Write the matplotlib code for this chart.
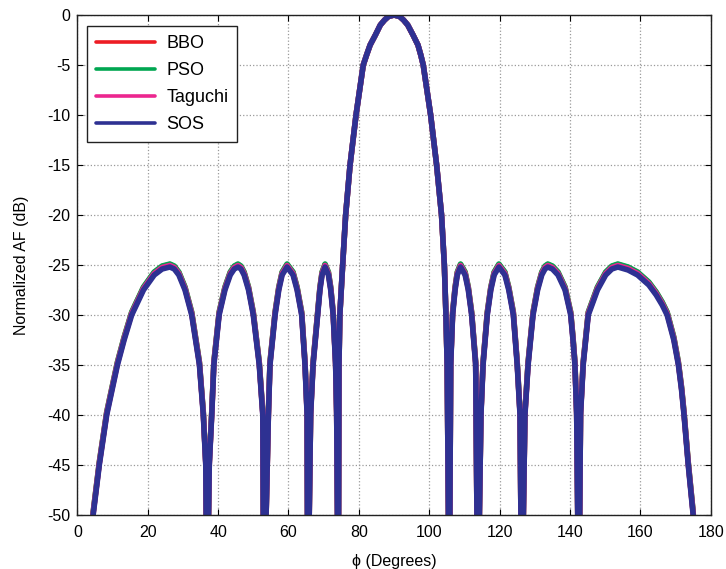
import matplotlib
matplotlib.use("Agg")
import matplotlib.pyplot as plt

plt.rcParams['font.family'] = ['Liberation Sans', 'DejaVu Sans']
plt.rcParams['axes.unicode_minus'] = False

# angle samples (degrees): side lobes left of the beam, main beam, side lobes right of it
phi_left = [3.9, 4.5, 6.25, 8.35, 11.4, 13.3, 15.45, 18.8, 21.85, 24.1, 26.3, 27.55, 28.85, 30.6, 32.5, 34.7, 35.8, 36.5, 36.85,
            37.5, 38.2, 38.8, 40.3, 41.95, 43.45, 44.6, 45.65, 46.5, 47.4, 48.65, 50.0, 51.7, 52.7, 53.0,
            54.3, 54.75, 56.2, 57.25, 58.2, 59.6, 61.3, 62.45, 63.75, 64.7, 65.3, 65.5,
            66.3, 67.0, 68.3, 68.95, 69.55, 70.4, 71.35, 72.0, 72.7, 73.4, 73.7, 74.15]
phi_main = [74.35, 74.6, 75.4, 76.25, 77.5, 79.2, 81.25, 82.2, 83.2, 84.7, 86.1, 87.3, 88.4, 90.0,
            91.6, 92.7, 93.9, 95.4, 96.8, 97.6, 98.3, 100.4, 102.1, 103.5, 104.3, 104.75, 105.1, 105.7]
phi_right = [106.1, 106.65, 107.35, 107.98, 108.9, 110.2, 111.1, 112.05, 113.2, 113.8,
             114.7, 115.3, 116.5, 117.5, 118.45, 119.8, 121.5, 122.6, 123.9, 125.0, 125.8, 126.3,
             127.2, 128.1, 129.5, 130.8, 131.98, 132.9, 133.7, 135.0, 136.6, 138.6, 140.2, 140.85, 141.4, 141.9, 142.5,
             143.0, 143.75, 145.2, 147.8, 150.15, 151.9, 153.6, 156.5, 159.2, 162.4, 164.5, 166.2, 167.6, 169.5, 170.8, 171.7, 172.4, 173.6, 175.0, 175.5]

# main beam is the same for all four methods
main_db = [-35, -30, -25, -20, -15, -10, -5, -4, -3, -2, -1, -0.5, -0.15, 0,
           -0.15, -0.5, -1, -2, -3, -4, -5, -10, -15, -20, -25, -30, -35, -60]

sos_left = [-53, -50, -45, -40, -35, -32.5, -30, -27.5, -26, -25.4, -25.2, -25.4, -26, -27.5, -30, -35, -40, -45, -60,
            -45, -40, -35, -30, -27.5, -26, -25.4, -25.2, -25.4, -26, -27.5, -30, -35, -40, -60,
            -40, -35, -30, -27.5, -26, -25.2, -26, -27.5, -30, -35, -40, -60,
            -40, -35, -30, -27.5, -26, -25.2, -26, -27.5, -30, -35, -40, -60]
sos_right = [-35, -30, -27.5, -26, -25.2, -26, -27.5, -30, -35, -60,
             -40, -35, -30, -27.5, -26, -25.2, -26, -27.5, -30, -35, -40, -60,
             -40, -35, -30, -27.5, -26, -25.4, -25.2, -25.4, -26, -27.5, -30, -32.5, -35, -40, -60,
             -40, -35, -30, -27.5, -26, -25.4, -25.2, -25.5, -26, -27, -28, -29, -30, -32.5, -35, -37.5, -40, -45, -50, -53]

taguchi_left = [-52.85, -49.85, -44.85, -39.85, -34.85, -32.35, -29.85, -27.35, -25.85, -25.25, -25.05, -25.25, -25.85, -27.35, -29.85, -34.85, -39.85, -44.85, -60,
                -44.85, -39.85, -34.85, -29.85, -27.35, -25.85, -25.25, -25.05, -25.25, -25.85, -27.35, -29.85, -34.85, -39.85, -60,
                -39.85, -34.85, -29.85, -27.35, -25.85, -25.05, -25.85, -27.35, -29.85, -34.85, -39.85, -60,
                -39.85, -34.85, -29.85, -27.35, -25.85, -25.05, -25.85, -27.35, -29.85, -34.85, -39.85, -60]
taguchi_right = [-34.85, -29.85, -27.35, -25.85, -25.05, -25.85, -27.35, -29.85, -34.85, -60,
                 -39.85, -34.85, -29.85, -27.35, -25.85, -25.05, -25.85, -27.35, -29.85, -34.85, -39.85, -60,
                 -39.85, -34.85, -29.85, -27.35, -25.85, -25.25, -25.05, -25.25, -25.85, -27.35, -29.85, -32.35, -34.85, -39.85, -60,
                 -39.85, -34.85, -29.85, -27.35, -25.85, -25.25, -25.05, -25.35, -25.85, -26.85, -27.85, -28.85, -29.85, -32.35, -34.85, -37.35, -39.85, -44.85, -49.85, -52.85]

pso_left = [-52.7, -49.7, -44.7, -39.7, -34.7, -32.2, -29.7, -27.2, -25.7, -25.1, -24.9, -25.1, -25.7, -27.2, -29.7, -34.7, -39.7, -44.7, -60,
            -44.7, -39.7, -34.7, -29.7, -27.2, -25.7, -25.1, -24.9, -25.1, -25.7, -27.2, -29.7, -34.7, -39.7, -60,
            -39.7, -34.7, -29.7, -27.2, -25.7, -24.9, -25.7, -27.2, -29.7, -34.7, -39.7, -60,
            -39.7, -34.7, -29.7, -27.2, -25.7, -24.9, -25.7, -27.2, -29.7, -34.7, -39.7, -60]
pso_right = [-34.7, -29.7, -27.2, -25.7, -24.9, -25.7, -27.2, -29.7, -34.7, -60,
             -39.7, -34.7, -29.7, -27.2, -25.7, -24.9, -25.7, -27.2, -29.7, -34.7, -39.7, -60,
             -39.7, -34.7, -29.7, -27.2, -25.7, -25.1, -24.9, -25.1, -25.7, -27.2, -29.7, -32.2, -34.7, -39.7, -60,
             -39.7, -34.7, -29.7, -27.2, -25.7, -25.1, -24.9, -25.2, -25.7, -26.7, -27.7, -28.7, -29.7, -32.2, -34.7, -37.2, -39.7, -44.7, -49.7, -52.7]

bbo_left = [-52.75, -49.75, -44.75, -39.75, -34.75, -32.25, -29.75, -27.25, -25.75, -25.15, -24.95, -25.15, -25.75, -27.25, -29.75, -34.75, -39.75, -44.75, -60,
            -44.75, -39.75, -34.75, -29.75, -27.25, -25.75, -25.15, -24.95, -25.15, -25.75, -27.25, -29.75, -34.75, -39.75, -60,
            -39.75, -34.75, -29.75, -27.25, -25.75, -24.95, -25.75, -27.25, -29.75, -34.75, -39.75, -60,
            -39.75, -34.75, -29.75, -27.25, -25.75, -24.95, -25.75, -27.25, -29.75, -34.75, -39.75, -60]
bbo_right = [-34.75, -29.75, -27.25, -25.75, -24.95, -25.75, -27.25, -29.75, -34.75, -60,
             -39.75, -34.75, -29.75, -27.25, -25.75, -24.95, -25.75, -27.25, -29.75, -34.75, -39.75, -60,
             -39.75, -34.75, -29.75, -27.25, -25.75, -25.15, -24.95, -25.15, -25.75, -27.25, -29.75, -32.25, -34.75, -39.75, -60,
             -39.75, -34.75, -29.75, -27.25, -25.75, -25.15, -24.95, -25.25, -25.75, -26.75, -27.75, -28.75, -29.75, -32.25, -34.75, -37.25, -39.75, -44.75, -49.75, -52.75]

phi = phi_left + phi_main + phi_right
series = [
    ('BBO', bbo_left + main_db + bbo_right, '#ED1C24'),
    ('PSO', pso_left + main_db + pso_right, '#00A651'),
    ('Taguchi', taguchi_left + main_db + taguchi_right, '#EC268F'),
    ('SOS', sos_left + main_db + sos_right, '#2E3192'),
]

fig = plt.figure(figsize=(7.26, 5.69), dpi=100)
ax = fig.add_axes([0.1065, 0.0949, 0.8725, 0.8787])

for name, vals, col in series:
    ax.plot(phi, vals, color=col, lw=4.0, label=name,
            solid_joinstyle='round', solid_capstyle='round')

ax.set_xlim(0, 180)
ax.set_ylim(-50, 0)
ax.set_xticks(range(0, 181, 20))
ax.set_yticks(range(-50, 1, 5))
ax.grid(True, color='#9a9a9a', linestyle=':', linewidth=0.9)
ax.tick_params(direction='in', top=True, right=True, labelsize=11.5, length=4, width=0.8)
ax.tick_params(axis='x', pad=7)
ax.tick_params(axis='y', pad=5)
for s in ax.spines.values():
    s.set_linewidth(1.0)
    s.set_color('#222222')

ax.set_xlabel('\u03d5 (Degrees)', fontsize=11.5, labelpad=10)
ax.set_ylabel('Normalized AF (dB)', fontsize=11.5, labelpad=13)

leg = ax.legend(loc='upper left', bbox_to_anchor=(0.015, 0.978), borderaxespad=0,
                fontsize=13, handlelength=3.3, labelspacing=0.55, handletextpad=0.6,
                fancybox=False, framealpha=1, edgecolor='#222222', borderpad=0.5)
leg.get_frame().set_linewidth(1.0)
for line in leg.get_lines():
    line.set_linewidth(2.6)

fig.savefig('out.png', dpi=100)
